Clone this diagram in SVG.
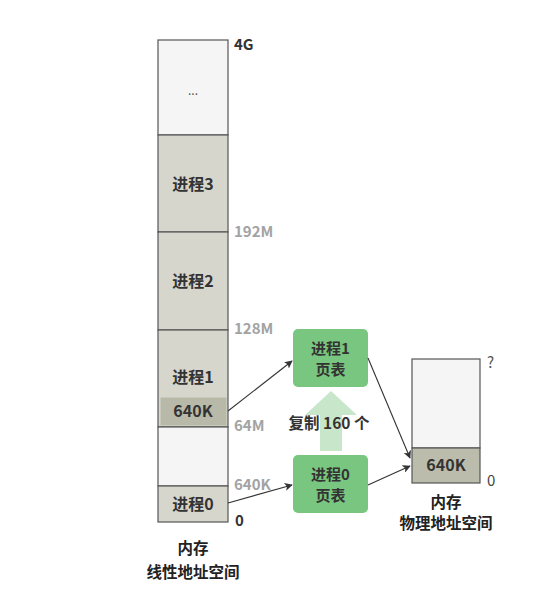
<svg xmlns="http://www.w3.org/2000/svg" width="554" height="598" viewBox="0 0 554 598">
<defs>
<style>
text{font-family:"Noto Sans CJK SC","Noto Sans",sans-serif;font-weight:bold;}
.seg{fill:#d7d6cd;stroke:#555;stroke-width:1.2;}
.empty{fill:#f5f5f5;stroke:#555;stroke-width:1.2;}
.dark{fill:#b9b9a9;stroke:#b9b9a9;}
.lbl{font-size:16px;fill:#333;text-anchor:middle;}
.axis{font-size:15px;fill:#a3a3a3;}
.axisd{font-size:15px;fill:#333;}
.pt{fill:#78c67f;}
.ptxt{font-size:15px;fill:#333;text-anchor:middle;}
.cap{font-size:15.5px;fill:#222;text-anchor:middle;}
.conn{stroke:#333;stroke-width:1.1;fill:none;marker-end:url(#ah);}
</style>
<marker id="ah" viewBox="0 0 10 10" refX="9" refY="5" markerWidth="8" markerHeight="8" orient="auto" markerUnits="userSpaceOnUse">
<path d="M0,0 L10,5 L0,10 L2.5,5 z" fill="#333"/>
</marker>
</defs>
<rect width="554" height="598" fill="#fff"/>

<g id="linear-memory">
<rect class="empty" x="158" y="40" width="70" height="95"/>
<text x="193" y="95" style="font-size:12px;fill:#555;font-weight:normal" text-anchor="middle">...</text>
<rect class="seg" x="158" y="135" width="70" height="97"/>
<text class="lbl" x="193" y="190">进程3</text>
<rect class="seg" x="158" y="232" width="70" height="98"/>
<text class="lbl" x="193" y="287">进程2</text>
<rect class="seg" x="158" y="330" width="70" height="97"/>
<text class="lbl" x="193" y="383">进程1</text>
<rect class="dark" x="161" y="398" width="65" height="27"/>
<text class="lbl" x="193" y="417">640K</text>
<rect class="empty" x="158" y="427" width="70" height="59"/>
<rect class="seg" x="158" y="486" width="70" height="36"/>
<text class="lbl" x="193" y="510">进程0</text>
<text class="axisd" x="234" y="50">4G</text>
<text class="axis" x="234" y="237">192M</text>
<text class="axis" x="234" y="334">128M</text>
<text class="axis" x="234" y="431">64M</text>
<text class="axis" x="234" y="490">640K</text>
<text class="axisd" x="235" y="526">0</text>
<text class="cap" x="193" y="554">内存</text>
<text class="cap" x="193" y="578">线性地址空间</text>
</g>

<g id="copy-arrow">
<path d="M331,391 L357,415 L342,415 L342,451 L320,451 L320,415 L305,415 Z" fill="#c8e7ca"/>
<text x="329" y="429" style="font-size:15.5px;fill:#333" text-anchor="middle">复制 160 个</text>
</g>

<g id="pt1">
<rect class="pt" x="293" y="329" width="75" height="58" rx="5"/>
<text class="ptxt" x="330.5" y="354">进程1</text>
<text class="ptxt" x="330.5" y="375">页表</text>
</g>

<g id="pt0">
<rect class="pt" x="293" y="455" width="75" height="58" rx="5"/>
<text class="ptxt" x="330.5" y="480">进程0</text>
<text class="ptxt" x="330.5" y="501">页表</text>
</g>

<g id="physical-memory">
<rect class="empty" x="412" y="359" width="68" height="89"/>
<rect class="seg" x="412" y="448" width="68" height="35" style="fill:#bcbcac"/>
<text class="lbl" x="446" y="471">640K</text>
<text class="axisd" x="487" y="368" style="font-weight:normal;fill:#555">?</text>
<text class="axisd" x="487" y="486" style="font-weight:normal;fill:#444">0</text>
<text class="cap" x="446" y="508">内存</text>
<text class="cap" x="446" y="529">物理地址空间</text>
</g>

<g id="connectors">
<path class="conn" d="M228,411 L292,361"/>
<path class="conn" d="M228,503 L292,485"/>
<path class="conn" d="M368,358 L410,458"/>
<path class="conn" d="M368,485 L410,466"/>
</g>
</svg>
